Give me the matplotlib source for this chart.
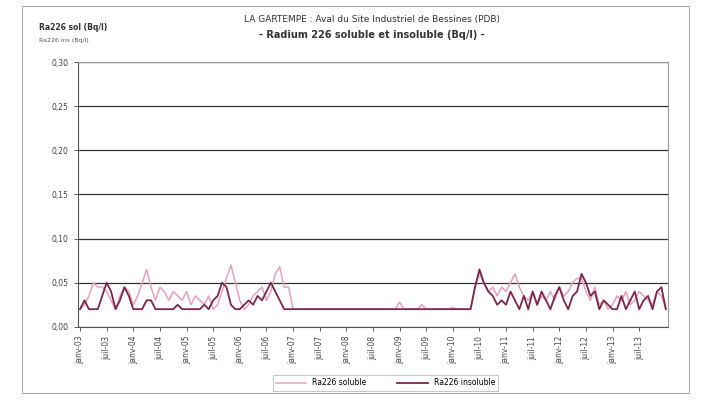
import matplotlib
matplotlib.use("Agg")
import matplotlib.pyplot as plt
from matplotlib.patches import Rectangle
import numpy as np

# Ra226 values (Bq/l), one value per sample
ra226_soluble = [
    0.020, 0.025, 0.035, 0.050, 0.045, 0.045, 0.040, 0.030, 0.020, 0.035,
    0.045, 0.040, 0.025, 0.035, 0.050, 0.065, 0.045, 0.030, 0.045, 0.040,
    0.030, 0.040, 0.035, 0.030, 0.040, 0.025, 0.035, 0.030, 0.025, 0.035,
    0.020, 0.025, 0.040, 0.055, 0.070, 0.050, 0.030, 0.020, 0.025, 0.035,
    0.040, 0.045, 0.030, 0.040, 0.060, 0.068, 0.045, 0.045, 0.020, 0.020,
    0.020, 0.020, 0.020, 0.020, 0.020, 0.020, 0.020, 0.020, 0.020, 0.020,
    0.020, 0.020, 0.020, 0.020, 0.020, 0.020, 0.020, 0.020, 0.020, 0.020,
    0.020, 0.020, 0.028, 0.020, 0.020, 0.020, 0.020, 0.025, 0.020, 0.020,
    0.020, 0.020, 0.020, 0.020, 0.022, 0.020, 0.020, 0.020, 0.020, 0.045,
    0.060, 0.050, 0.040, 0.045, 0.035, 0.045, 0.040, 0.050, 0.060, 0.045,
    0.035, 0.030, 0.040, 0.025, 0.035, 0.030, 0.040, 0.030, 0.045, 0.035,
    0.040, 0.050, 0.055, 0.055, 0.040, 0.030, 0.045, 0.025, 0.030, 0.020,
    0.025, 0.035, 0.030, 0.040, 0.025, 0.030, 0.040, 0.035, 0.030, 0.025,
    0.040, 0.035, 0.020,
]
ra226_insoluble = [
    0.020, 0.030, 0.020, 0.020, 0.020, 0.035, 0.050, 0.040, 0.020, 0.030,
    0.045, 0.035, 0.020, 0.020, 0.020, 0.030, 0.030, 0.020, 0.020, 0.020,
    0.020, 0.020, 0.025, 0.020, 0.020, 0.020, 0.020, 0.020, 0.025, 0.020,
    0.030, 0.035, 0.050, 0.045, 0.025, 0.020, 0.020, 0.025, 0.030, 0.025,
    0.035, 0.030, 0.040, 0.050, 0.040, 0.030, 0.020, 0.020, 0.020, 0.020,
    0.020, 0.020, 0.020, 0.020, 0.020, 0.020, 0.020, 0.020, 0.020, 0.020,
    0.020, 0.020, 0.020, 0.020, 0.020, 0.020, 0.020, 0.020, 0.020, 0.020,
    0.020, 0.020, 0.020, 0.020, 0.020, 0.020, 0.020, 0.020, 0.020, 0.020,
    0.020, 0.020, 0.020, 0.020, 0.020, 0.020, 0.020, 0.020, 0.020, 0.045,
    0.065, 0.050, 0.040, 0.035, 0.025, 0.030, 0.025, 0.040, 0.030, 0.020,
    0.035, 0.020, 0.040, 0.025, 0.040, 0.030, 0.020, 0.035, 0.045, 0.030,
    0.020, 0.035, 0.040, 0.060, 0.050, 0.035, 0.040, 0.020, 0.030, 0.025,
    0.020, 0.020, 0.035, 0.020, 0.030, 0.040, 0.020, 0.030, 0.035, 0.020,
    0.040, 0.045, 0.020,
]

# category labels shown every 6 samples
tick_labels = [
    "janv-03", "juil-03", "janv-04", "juil-04", "janv-05", "juil-05",
    "janv-06", "juil-06", "janv-07", "juil-07", "janv-08", "juil-08",
    "janv-09", "juil-09", "janv-10", "juil-10", "janv-11", "juil-11",
    "janv-12", "juil-12", "janv-13", "juil-13",
]
yticks = [0.00, 0.05, 0.10, 0.15, 0.20, 0.25, 0.30]

x = np.arange(len(ra226_soluble))

fig = plt.figure(figsize=(7.01, 4.01), dpi=100)
ax = fig.add_axes([0.111, 0.185, 0.842, 0.660])

ax.plot(x, ra226_soluble, color='#e8a0ba', linewidth=1.1, label='Ra226 soluble')
ax.plot(x, ra226_insoluble, color='#7a2848', linewidth=1.3, label='Ra226 insoluble')

ax.set_xlim(-0.5, len(x) - 0.5)
ax.set_ylim(0, 0.30)
ax.set_yticks(yticks)
ax.set_yticklabels([f"{v:.2f}".replace('.', ',') for v in yticks], fontsize=5.5, color='#333333')
ax.set_xticks(np.arange(0, len(x), 6)[:len(tick_labels)])
ax.set_xticklabels(tick_labels, rotation=90, fontsize=5.5, color='#222222')
ax.tick_params(length=3, width=0.6, colors='#444444')
ax.grid(True, axis='y', color='#333333', linewidth=0.9)
ax.set_axisbelow(True)
for side in ['top', 'right']:
    ax.spines[side].set_color('#999999')
for side in ['left', 'bottom']:
    ax.spines[side].set_color('#555555')

fig.text(0.53, 0.945, "LA GARTEMPE : Aval du Site Industriel de Bessines (PDB)",
         ha='center', fontsize=6.5, color='#333333')
fig.text(0.53, 0.905, "- Radium 226 soluble et insoluble (Bq/l) -",
         ha='center', fontsize=7, fontweight='bold', color='#333333')
fig.text(0.055, 0.925, "Ra226 sol (Bq/l)", fontsize=5.5, fontweight='bold', color='#333333')
fig.text(0.055, 0.895, "Ra226 ins (Bq/l)", fontsize=4.5, color='#555555')

# chart area frame
fig.patches.append(Rectangle((0.031, 0.02), 0.952, 0.965, transform=fig.transFigure,
                             fill=False, edgecolor='#aaaaaa', linewidth=0.8))

leg = fig.legend(loc='center', bbox_to_anchor=(0.55, 0.045), ncol=2, fontsize=5.5,
                 frameon=True, fancybox=False, edgecolor='#aaaaaa',
                 handlelength=4, columnspacing=4)
leg.get_frame().set_linewidth(0.6)

fig.savefig('out.png', dpi=100)
